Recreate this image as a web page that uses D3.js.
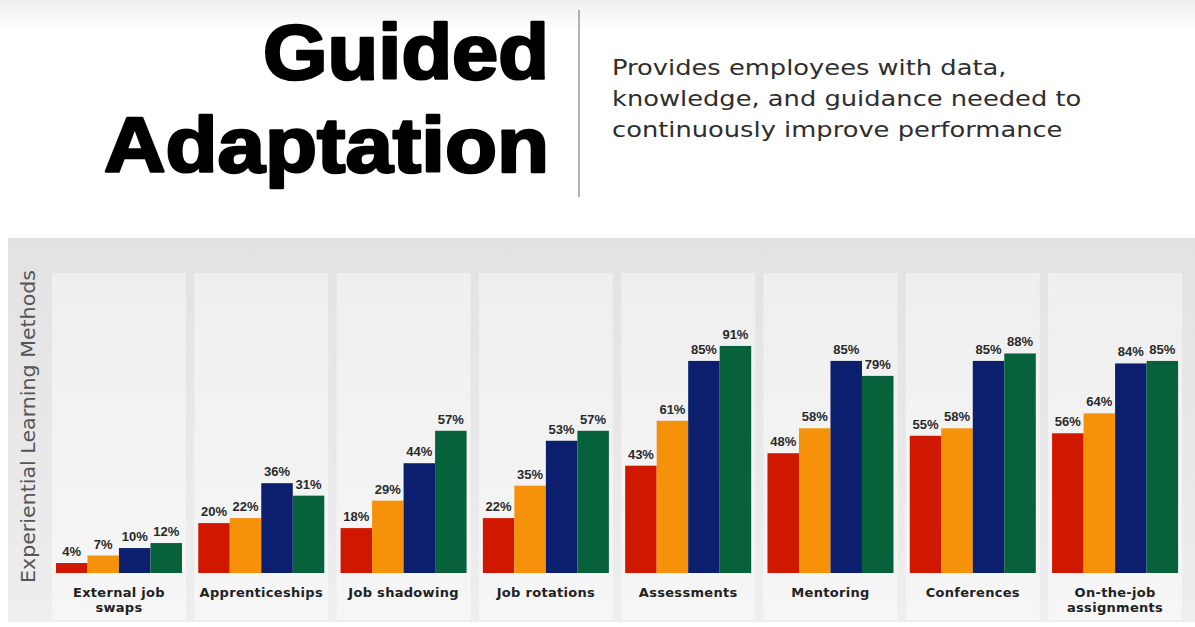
<!DOCTYPE html>
<html>
<head>
<meta charset="utf-8">
<script src="https://cdn.jsdelivr.net/npm/d3@7"></script>
<style>
    body { margin: 0; background: #ffffff; }
    svg { display: block; }
</style>
</head>
<body>
<div id="chart"></div>
<script>

var categories = ["External job swaps", "Apprenticeships", "Job shadowing", "Job rotations",
    "Assessments", "Mentoring", "Conferences", "On-the-job assignments"];
var categoryLines = [["External job", "swaps"], ["Apprenticeships"], ["Job shadowing"], ["Job rotations"],
    ["Assessments"], ["Mentoring"], ["Conferences"], ["On-the-job", "assignments"]];

var seriesNames = ["s1", "s2", "s3", "s4"];
var series1 = [4, 20, 18, 22, 43, 48, 55, 56];
var series2 = [7, 22, 29, 35, 61, 58, 58, 64];
var series3 = [10, 36, 44, 53, 85, 85, 85, 84];
var series4 = [12, 31, 57, 57, 91, 79, 88, 85];
var seriesColors = ["#d01700", "#f5920a", "#0c1f6e", "#07613a"];

var titleLines = ["Guided", "Adaptation"];
var subtitleLines = ["Provides employees with data,", "knowledge, and guidance needed to", "continuously improve performance"];
var yLabel = "Experiential Learning Methods";

var allSeries = [series1, series2, series3, series4];

var width = 1195, height = 627;

var svg = d3.select("#chart").append("svg")
    .attr("width", width)
    .attr("height", height);

var defs = svg.append("defs");
var topFade = defs.append("linearGradient").attr("id", "topFade").attr("x1", 0).attr("y1", 0).attr("x2", 0).attr("y2", 1);
topFade.append("stop").attr("offset", 0).attr("stop-color", "#eeeeee");
topFade.append("stop").attr("offset", 1).attr("stop-color", "#ffffff");

var bgFade = defs.append("linearGradient").attr("id", "bgFade").attr("x1", 0).attr("y1", 0).attr("x2", 0).attr("y2", 1);
bgFade.append("stop").attr("offset", 0).attr("stop-color", "#e2e2e2");
bgFade.append("stop").attr("offset", 0.35).attr("stop-color", "#e6e6e6");
bgFade.append("stop").attr("offset", 1).attr("stop-color", "#eeeeee");

var panelFade = defs.append("linearGradient").attr("id", "panelFade").attr("x1", 0).attr("y1", 0).attr("x2", 0).attr("y2", 1);
panelFade.append("stop").attr("offset", 0).attr("stop-color", "#efefef");
panelFade.append("stop").attr("offset", 1).attr("stop-color", "#f6f6f6");

// header
svg.append("rect").attr("x", 0).attr("y", 0).attr("width", width).attr("height", 30).attr("fill", "url(#topFade)");

// heavy title: bold face thickened with a stroke
svg.append("text")
    .attr("x", 263).attr("y", 79)
    .attr("textLength", 286).attr("lengthAdjust", "spacingAndGlyphs")
    .style("font-family", "'Liberation Sans', Arial, sans-serif")
    .style("font-weight", "bold")
    .style("font-size", "77px")
    .attr("fill", "#000")
    .attr("stroke", "#000").attr("stroke-width", 2.6).attr("stroke-linejoin", "round")
    .text(titleLines[0]);

svg.append("text")
    .attr("x", 104).attr("y", 172)
    .attr("textLength", 445).attr("lengthAdjust", "spacingAndGlyphs")
    .style("font-family", "'Liberation Sans', Arial, sans-serif")
    .style("font-weight", "bold")
    .style("font-size", "77px")
    .attr("fill", "#000")
    .attr("stroke", "#000").attr("stroke-width", 2.6).attr("stroke-linejoin", "round")
    .text(titleLines[1]);

svg.append("line")
    .attr("x1", 579).attr("x2", 579).attr("y1", 10).attr("y2", 197)
    .attr("stroke", "#9a9a9a").attr("stroke-width", 1.5);

var sub = svg.append("g").attr("transform", "translate(612,0) scale(1.17,1)");
sub.selectAll("text").data(subtitleLines).enter().append("text")
    .attr("x", 0)
    .attr("y", function (d, i) { return 75 + i * 31; })
    .style("font-family", "'DejaVu Sans', Verdana, sans-serif")
    .style("font-size", "22px")
    .attr("fill", "#2e2e2e")
    .text(function (d) { return d; });

// chart background
svg.append("rect").attr("x", 8).attr("y", 238).attr("width", width - 8).attr("height", 384).attr("fill", "url(#bgFade)");

var x = d3.scaleBand()
    .domain(categories)
    .range([47.85, 1186.2])
    .paddingInner(0.1145)
    .paddingOuter(0.057);

var xs = d3.scaleBand()
    .domain(seriesNames)
    .range([0, x.bandwidth()]);

var y = d3.scaleLinear()
    .domain([0, 100])
    .range([573, 323.5]);

svg.selectAll(".panel").data(categories).enter().append("rect")
    .attr("class", "panel")
    .attr("x", function (d) { return x(d) - 4; })
    .attr("y", 273)
    .attr("width", x.bandwidth() + 8)
    .attr("height", 347)
    .attr("fill", "url(#panelFade)");

var groups = svg.selectAll(".grp").data(categories).enter().append("g")
    .attr("class", "grp")
    .attr("transform", function (d) { return "translate(" + x(d) + ",0)"; });

groups.each(function (cat, ci) {
    var g = d3.select(this);
    var vals = allSeries.map(function (s, si) { return {name: seriesNames[si], v: s[ci], c: seriesColors[si]}; });

    g.selectAll("rect.bar").data(vals).enter().append("rect")
        .attr("class", "bar")
        .attr("x", function (d) { return xs(d.name); })
        .attr("y", function (d) { return y(d.v); })
        .attr("width", xs.bandwidth())
        .attr("height", function (d) { return y(0) - y(d.v); })
        .attr("fill", function (d) { return d.c; });

    g.selectAll("text.val").data(vals).enter().append("text")
        .attr("class", "val")
        .attr("x", function (d) { return xs(d.name) + xs.bandwidth() / 2; })
        .attr("y", function (d) { return y(d.v) - 7; })
        .attr("text-anchor", "middle")
        .style("font-family", "'Liberation Sans Narrow', 'Arial Narrow', 'Liberation Sans', Arial, sans-serif")
        .style("font-weight", "bold")
        .style("font-size", "13px")
        .attr("fill", "#2a2a2a")
        .text(function (d) { return d.v + "%"; });

    g.selectAll("text.cat").data(categoryLines[ci]).enter().append("text")
        .attr("class", "cat")
        .attr("x", x.bandwidth() / 2)
        .attr("y", function (d, i) { return 597 + i * 15; })
        .attr("text-anchor", "middle")
        .style("font-family", "'DejaVu Sans', Verdana, sans-serif")
        .style("font-weight", "bold")
        .style("font-size", "13px")
        .style("letter-spacing", "0.3px")
        .attr("fill", "#222")
        .text(function (d) { return d; });
});

svg.append("text")
    .attr("transform", "translate(35,426.5) rotate(-90)")
    .attr("text-anchor", "middle")
    .attr("textLength", 313).attr("lengthAdjust", "spacingAndGlyphs")
    .style("font-family", "'DejaVu Sans', Verdana, sans-serif")
    .style("font-size", "19px")
    .attr("fill", "#555")
    .text(yLabel);

</script>
</body>
</html>
